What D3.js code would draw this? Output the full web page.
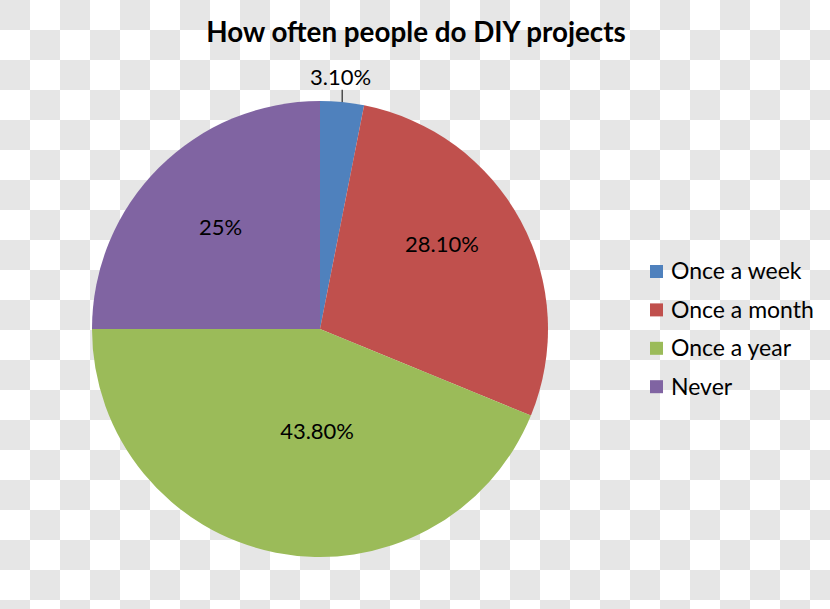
<!DOCTYPE html>
<html><head><meta charset="utf-8">
<script src="https://cdn.jsdelivr.net/npm/d3@7"></script>
<style>
html,body{margin:0;padding:0;}
body{width:830px;height:609px;overflow:hidden;
background-color:#ffffff;
background-image:
 linear-gradient(45deg,#e6e6e6 25%,transparent 25%,transparent 75%,#e6e6e6 75%),
 linear-gradient(45deg,#e6e6e6 25%,transparent 25%,transparent 75%,#e6e6e6 75%);
background-size:60px 60px;background-position:30px 0,0 30px;}
svg{display:block;}
text{font-family:Lato,"Open Sans",sans-serif;fill:#000;}
</style></head><body>
<svg id="chart" width="830" height="609"></svg>
<script>
const title = "How often people do DIY projects";
const categories = ["Once a week","Once a month","Once a year","Never"];
const values = [3.1, 28.1, 43.8, 25];
const valueLabels = ["3.10%","28.10%","43.80%","25%"];
const colors = ["#4F81BD","#C0504D","#9BBB59","#8064A2"];

const svg = d3.select("#chart");
const cx = 320, cy = 329, R = 228;

svg.append("text").attr("x",416).attr("y",41.5).attr("text-anchor","middle")
  .style("font-size","27.8px").style("font-weight","bold").text(title);

const pie = d3.pie().sort(null).value(d=>d);
const arcs = pie(values);
const arc = d3.arc().innerRadius(0).outerRadius(R);
const g = svg.append("g").attr("transform",`translate(${cx},${cy})`);
g.selectAll("path").data(arcs).enter().append("path")
  .attr("d",arc).attr("fill",(d,i)=>colors[i]);

// label placement (Excel best-fit): angle shift (deg) from slice middle and radius fraction
const labelPlace = [[-0.9,1.11],[-6.6,0.652],[-9.5,0.447],[0.6,0.623]];
arcs.forEach((d,i)=>{
  const mid = (d.startAngle+d.endAngle)/2;
  const a = mid + labelPlace[i][0]*Math.PI/180;
  const r = R*labelPlace[i][1];
  const x = r*Math.sin(a), y = -r*Math.cos(a);
  g.append("text").attr("x",x).attr("y",y).attr("dy","0.36em")
    .attr("text-anchor","middle").style("font-size","22px").text(valueLabels[i]);
  if(labelPlace[i][1]>1){
    const ex = R*Math.sin(mid), ey = -R*Math.cos(mid);
    g.append("line").attr("x1",ex).attr("y1",ey).attr("x2",ex).attr("y2",y+13)
      .attr("stroke","#000").attr("stroke-width",1);
  }
});

const leg = svg.append("g").attr("transform","translate(650,265)");
const items = leg.selectAll("g").data(categories).enter().append("g")
  .attr("transform",(d,i)=>`translate(0,${i*38.4})`);
items.append("rect").attr("width",13).attr("height",13).attr("fill",(d,i)=>colors[i]);
items.append("text").attr("x",21).attr("y",14.3).style("font-size","23px").text(d=>d);
</script></body></html>
